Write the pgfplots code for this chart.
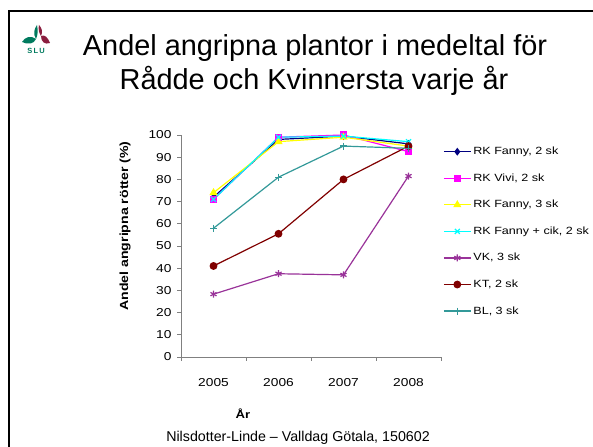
\documentclass[border=0pt]{standalone}
\usepackage{pgfplots}
\pgfplotsset{compat=1.18}
\usepackage{fontspec}
\setmainfont{Liberation Sans}
\newfontfamily\chartfont[FakeStretch=1.2]{Liberation Sans}
\definecolor{rkf2}{HTML}{000080}
\definecolor{rkv}{HTML}{FF00FF}
\definecolor{rkf3}{HTML}{FFFF00}
\definecolor{rkc}{HTML}{00FFFF}
\definecolor{vk}{HTML}{993399}
\definecolor{kt}{HTML}{800000}
\definecolor{bl}{HTML}{339999}
\definecolor{slugreen}{HTML}{007A5E}
\definecolor{slured}{HTML}{8B1E3F}
\definecolor{axcol}{HTML}{808080}
\begin{document}
\begin{tikzpicture}[x=1bp,y=1bp]
\path[use as bounding box] (0,0) rectangle (593,447);
% slide frame
\draw[line width=2.5bp] (9,0) -- (9,436) -- (593,436);
% logo
\fill[slugreen] (36,408) .. controls (31,412) and (25,410) .. (22,405) .. controls (28,402) and (34,403) .. cycle;
\fill[slured] (41,411) .. controls (45,413) and (48,409) .. (50,404) .. controls (45,402) and (41,405) .. cycle;
\fill[slugreen] (36,408) .. controls (33,413) and (34,418) .. (37,422) .. controls (38,417) and (38,412) .. cycle;
\fill[slured] (41,411) .. controls (43,415) and (42,419) .. (39,422) .. controls (38,418) and (39,414) .. cycle;
\node[font=\bfseries\fontsize{7.5}{8}\selectfont, text=slugreen] at (36,396) {S\,L\,U};
% title
\node[font=\fontsize{29}{34}\selectfont, align=center, anchor=base] at (315,391) {Andel angripna plantor i medeltal för};
\node[font=\fontsize{29}{34}\selectfont, align=center, anchor=base] at (314,357) {Rådde och Kvinnersta varje år};
% footer
\node[font=\fontsize{14.3}{16}\selectfont, anchor=base] at (298,5) {Nilsdotter-Linde – Valldag Götala, 150602};
% axis labels
\node[font=\bfseries\chartfont\fontsize{11.8}{13}\selectfont, rotate=90] at (125,221) {Andel angripna rötter (\%)};
\node[font=\bfseries\chartfont\fontsize{11}{12}\selectfont] at (243,33) {År};
\begin{axis}[
  at={(181bp,90bp)}, anchor=south west,
  scale only axis, width=260bp, height=222bp,
  xmin=-0.5, xmax=3.5, ymin=0, ymax=100,
  clip=false,
  axis x line*=bottom, axis y line*=left,
  axis line style={-, draw=axcol, line width=0.8bp},
  xtick={-0.5,0.5,1.5,2.5,3.5},
  x tick label as interval,
  xticklabels={2005,2006,2007,2008},
  ytick={0,10,...,100},
  tick align=outside, major tick length=4bp,
  tick style={draw=axcol, line width=0.8bp},
  ticklabel style={font=\chartfont\fontsize{11.5}{13}\selectfont},
  /pgf/number format/assume math mode=true,
  xticklabel style={yshift=-14bp},
  yticklabel style={xshift=-2bp},
  every axis plot/.append style={line width=1.2bp},
  legend cell align=left,
  legend style={draw=none, fill=none, at={(axis description cs:1.0077,0.955)}, anchor=north west,
    font=\chartfont\fontsize{10.5}{12}\selectfont, row sep=13.5bp, inner sep=0pt},
  legend image code/.code={\draw[mark repeat=2,mark phase=2] plot coordinates {(0bp,0bp) (13.5bp,0bp) (27bp,0bp)};},
]
\addplot[color=rkf2, mark=diamond*, mark size=3bp] coordinates {(0,72) (1,98) (2,99.5) (3,96)};
\addlegendentry{RK Fanny, 2 sk}
\addplot[color=rkv, mark=square*, mark size=3bp] coordinates {(0,71) (1,99) (2,100) (3,92.5)};
\addlegendentry{RK Vivi, 2 sk}
\addplot[color=rkf3, mark=triangle*, mark size=3.5bp] coordinates {(0,74) (1,97) (2,99) (3,95)};
\addlegendentry{RK Fanny, 3 sk}
\addplot[color=rkc, mark=x, mark size=3.5bp] coordinates {(0,71) (1,99) (2,99.5) (3,97)};
\addlegendentry{RK Fanny + cik, 2 sk}
\addplot[color=vk, mark=asterisk, mark size=3.5bp] coordinates {(0,28.3) (1,37.5) (2,37) (3,81.5)};
\addlegendentry{VK, 3 sk}
\addplot[color=kt, mark=*, mark size=3.3bp] coordinates {(0,41) (1,55.5) (2,80) (3,95)};
\addlegendentry{KT, 2 sk}
\addplot[color=bl, mark=+, mark size=3.5bp] coordinates {(0,58) (1,81) (2,95) (3,94)};
\addlegendentry{BL, 3 sk}
\end{axis}
\end{tikzpicture}
\end{document}
